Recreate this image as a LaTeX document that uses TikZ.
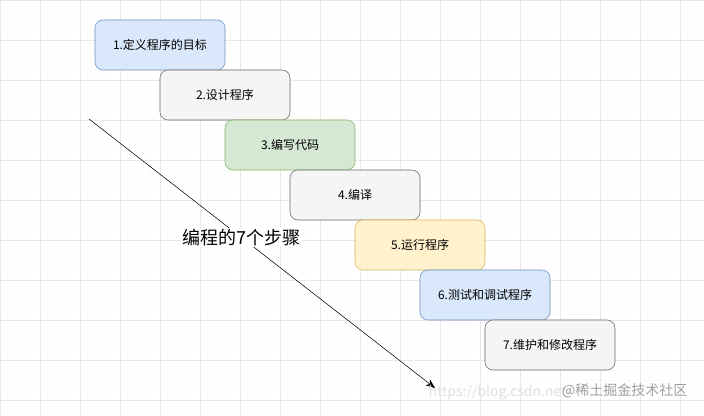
\documentclass[tikz,border=0pt]{standalone}
\usepackage{fontspec}
\setmainfont{Noto Sans CJK SC}
\usetikzlibrary{arrows.meta}

\definecolor{blueFill}{HTML}{DAE8FC}
\definecolor{blueLine}{HTML}{6C8EBF}
\definecolor{greyFill}{HTML}{F5F5F5}
\definecolor{greyLine}{HTML}{666666}
\definecolor{greenFill}{HTML}{D5E8D4}
\definecolor{greenLine}{HTML}{82B366}
\definecolor{yellowFill}{HTML}{FFF2CC}
\definecolor{yellowLine}{HTML}{D6B656}

\tikzset{
    stepbox/.style={draw, rounded corners=6pt, minimum width=97.5pt, minimum height=37.5pt,
        font=\fontsize{9pt}{11pt}\selectfont, inner sep=0pt},
    bluebox/.style={stepbox, fill=blueFill, draw=blueLine},
    greybox/.style={stepbox, fill=greyFill, draw=greyLine},
    greenbox/.style={stepbox, fill=greenFill, draw=greenLine},
    yellowbox/.style={stepbox, fill=yellowFill, draw=yellowLine}
}

\begin{document}
\begin{tikzpicture}[x=0.75pt, y=-0.75pt]
            \useasboundingbox (0,0) rectangle (704,416);
            % background grid
            \draw[gray!3, step=7.5pt] (0,0) grid (704,416);
            \draw[gray!18, step=30pt] (0,0) grid (704,416);

            % the seven steps
            \node[bluebox]   (define)  at (160,45)  {1.定义程序的目标};
            \node[greybox]   (design)  at (225,95)  {2.设计程序};
            \node[greenbox]  (code)    at (290,145) {3.编写代码};
            \node[greybox]   (compile) at (355,195) {4.编译};
            \node[yellowbox] (run)     at (420,245) {5.运行程序};
            \node[bluebox]   (test)    at (485,295) {6.测试和调试程序};
            \node[greybox]   (keep)    at (550,345) {7.维护和修改程序};

            % diagonal arrow with title
            \coordinate (start) at (89,119);
            \coordinate (end) at (435,388);
            \draw[-{Stealth[length=7pt, width=5.5pt]}] (start) -- (end)
                node[pos=0.44, fill=white, inner sep=1pt, font=\fontsize{13.5pt}{16pt}\selectfont] (title) {编程的7个步骤};

            % watermark
            \node[anchor=west, text=gray!25, font=\fontsize{10.5pt}{12pt}\selectfont] (url) at (424,393) {https://blog.csdn.net/};
            \node[anchor=east, text=gray!75, font=\fontsize{10.5pt}{12pt}\selectfont] (mark) at (692,391) {@稀土掘金技术社区};
        \end{tikzpicture}
\end{document}
